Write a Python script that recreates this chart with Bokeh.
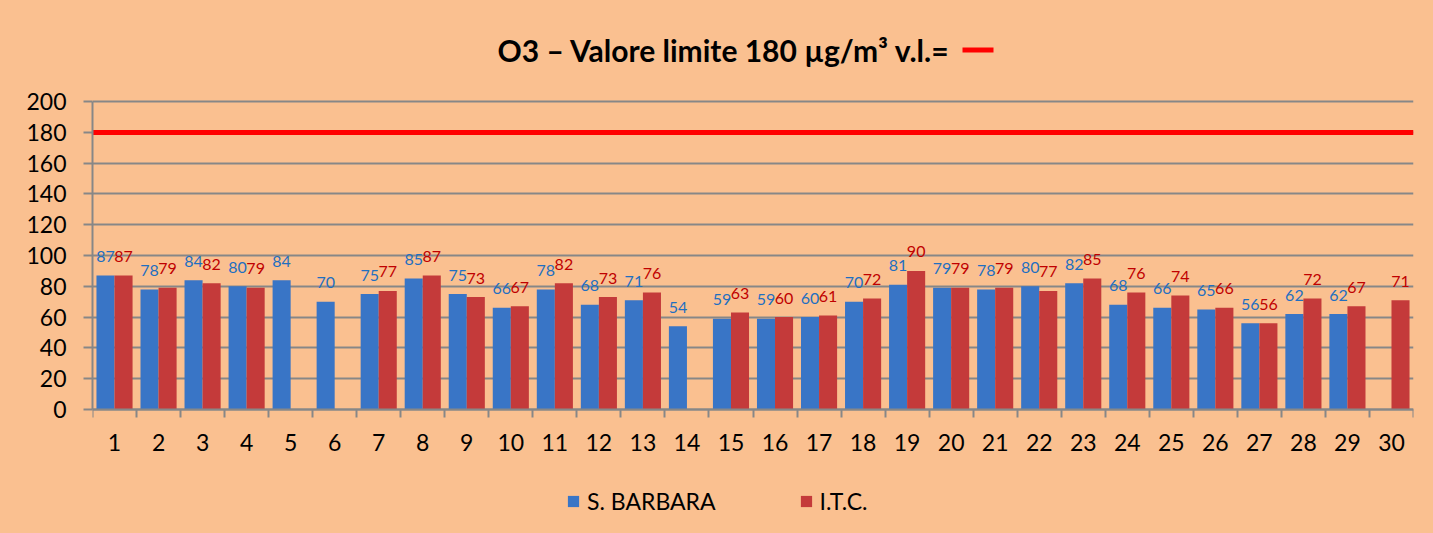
import numpy as np
import pandas as pd
from bokeh.plotting import figure
from bokeh.models import (ColumnDataSource, Range1d, FixedTicker, Legend,
                          LegendItem, Label, BoxAnnotation)
from bokeh.transform import dodge
from bokeh.core.properties import value
from bokeh.embed import file_html
from bokeh.resources import INLINE

# ---------------- data ----------------
days = list(range(1, 31))
s_barbara = [87, 78, 84, 80, 84, 70, 75, 85, 75, 66, 78, 68, 71, 54, 59,
             59, 60, 70, 81, 79, 78, 80, 82, 68, 66, 65, 56, 62, 62, None]
itc = [87, 79, 82, 79, None, None, 77, 87, 73, 67, 82, 73, 76, None, 63,
       60, 61, 72, 90, 79, 79, 77, 85, 76, 74, 66, 56, 72, 67, 71]
series_names = ["S. BARBARA", "I.T.C."]
y_ticks = [0, 20, 40, 60, 80, 100, 120, 140, 160, 180, 200]
limit_value = [180]
title_text = "O3 \u2013 Valore limite 180 \u00b5g/m\u00b3  v.l.="

# ---------------- layout / style ----------------
W, H = 1433, 533
PLOT_LEFT, PLOT_RIGHT = 92, 1413      # x pixels of the value area
Y_TOP_PX, Y_ZERO_PX = 101, 409        # pixels of 200 and of 0
BG = "#FAC090"
GRID = "#878787"
BLUE = "#3975C6"
RED = "#C43A3A"
BLUE_TXT = "#1F6FC0"
RED_TXT = "#C00000"
FONT = "Lato"
BAR_W = 0.41
OFF = 0.205

# the frame covers the full height so that title and legend live inside it
px_per_unit = (Y_ZERO_PX - Y_TOP_PX) / (y_ticks[-1] - y_ticks[0])
y_start = -(H - Y_ZERO_PX) / px_per_unit
y_end = Y_ZERO_PX / px_per_unit


def make_source(vals):
    df = pd.DataFrame({"day": days, "val": vals})
    df = df.dropna()
    df["val"] = df["val"].astype(float)
    df["lbl"] = df["val"].astype(int).astype(str)
    return ColumnDataSource(df)


src_sb = make_source(s_barbara)
src_itc = make_source(itc)

p = figure(width=W, height=H, output_backend="svg", toolbar_location=None,
           title=None,
           x_range=Range1d(days[0] - 0.5, days[-1] + 0.5),
           y_range=Range1d(y_start, y_end),
           min_border_left=PLOT_LEFT, min_border_right=W - PLOT_RIGHT,
           min_border_top=0, min_border_bottom=0,
           background_fill_color=BG, border_fill_color=BG,
           outline_line_color=None)
p.styles = {"background-color": BG}

# limit line
p.hspan(y=limit_value, line_color="#FF0000", line_width=5)

# bars
r_sb = p.vbar(x=dodge("day", -OFF, range=p.x_range), top="val", width=BAR_W,
              source=src_sb, fill_color=BLUE, line_color=None)
r_itc = p.vbar(x=dodge("day", OFF, range=p.x_range), top="val", width=BAR_W,
               source=src_itc, fill_color=RED, line_color=None)

# data labels
p.text(x=dodge("day", -OFF, range=p.x_range), y="val", text="lbl", source=src_sb,
       text_align="center", text_baseline="alphabetic", y_offset=-19,
       text_color=BLUE_TXT, text_font=value(FONT), text_font_size="16px")
p.text(x=dodge("day", OFF, range=p.x_range), y="val", text="lbl", source=src_itc,
       text_align="center", text_baseline="alphabetic", y_offset=-19,
       text_color=RED_TXT, text_font=value(FONT), text_font_size="16px")

# x axis, pinned at value 0
p.xaxis.fixed_location = 0
p.xaxis.ticker = FixedTicker(ticks=days, minor_ticks=[d - 0.5 for d in days] + [days[-1] + 0.5])
p.xaxis.major_tick_out = 0
p.xaxis.major_tick_in = 0
p.xaxis.minor_tick_out = 8
p.xaxis.minor_tick_in = 0
p.xaxis.minor_tick_line_color = GRID
p.xaxis.minor_tick_line_width = 2
p.xaxis.axis_line_color = GRID
p.xaxis.axis_line_width = 2
p.xaxis.major_label_text_font = FONT
p.xaxis.major_label_text_font_size = "23px"
p.xaxis.major_label_text_color = "black"
p.xaxis.major_label_standoff = 16
p.xgrid.visible = False

# y axis
p.yaxis.bounds = (y_ticks[0], y_ticks[-1])
p.yaxis.ticker = FixedTicker(ticks=y_ticks, minor_ticks=[])
p.yaxis.major_tick_out = 9
p.yaxis.major_tick_in = 0
p.yaxis.major_tick_line_color = GRID
p.yaxis.major_tick_line_width = 2
p.yaxis.axis_line_color = GRID
p.yaxis.axis_line_width = 2
p.yaxis.major_label_text_font = FONT
p.yaxis.major_label_text_font_size = "23px"
p.yaxis.major_label_text_color = "black"
p.yaxis.major_label_standoff = 17
p.ygrid.ticker = FixedTicker(ticks=y_ticks)
p.ygrid.grid_line_color = GRID
p.ygrid.grid_line_width = 2

# title and its red key for the limit line
p.add_layout(Label(x=497 - PLOT_LEFT, y=H - 49, x_units="screen", y_units="screen",
                   text=title_text, text_font=FONT, text_font_size="30px",
                   text_font_style="bold", text_color="black",
                   text_baseline="alphabetic", text_align="left"))
p.add_layout(BoxAnnotation(left=962 - PLOT_LEFT, right=993 - PLOT_LEFT,
                           bottom=H - 52, top=H - 47,
                           left_units="screen", right_units="screen",
                           bottom_units="screen", top_units="screen",
                           fill_color="#FF0000", fill_alpha=1.0,
                           line_color=None))

# series legend
legend = Legend(items=[LegendItem(label=series_names[0], renderers=[r_sb]),
                       LegendItem(label=series_names[1], renderers=[r_itc])],
                orientation="horizontal", location=(566 - PLOT_LEFT, H - 515),
                background_fill_alpha=0, border_line_color=None,
                label_text_font=FONT, label_text_font_size="23px",
                label_text_color="black",
                glyph_width=14, glyph_height=14, label_standoff=7,
                spacing=83, padding=0, margin=0)
p.add_layout(legend)

open("out.html", "w").write(file_html(p, INLINE))
